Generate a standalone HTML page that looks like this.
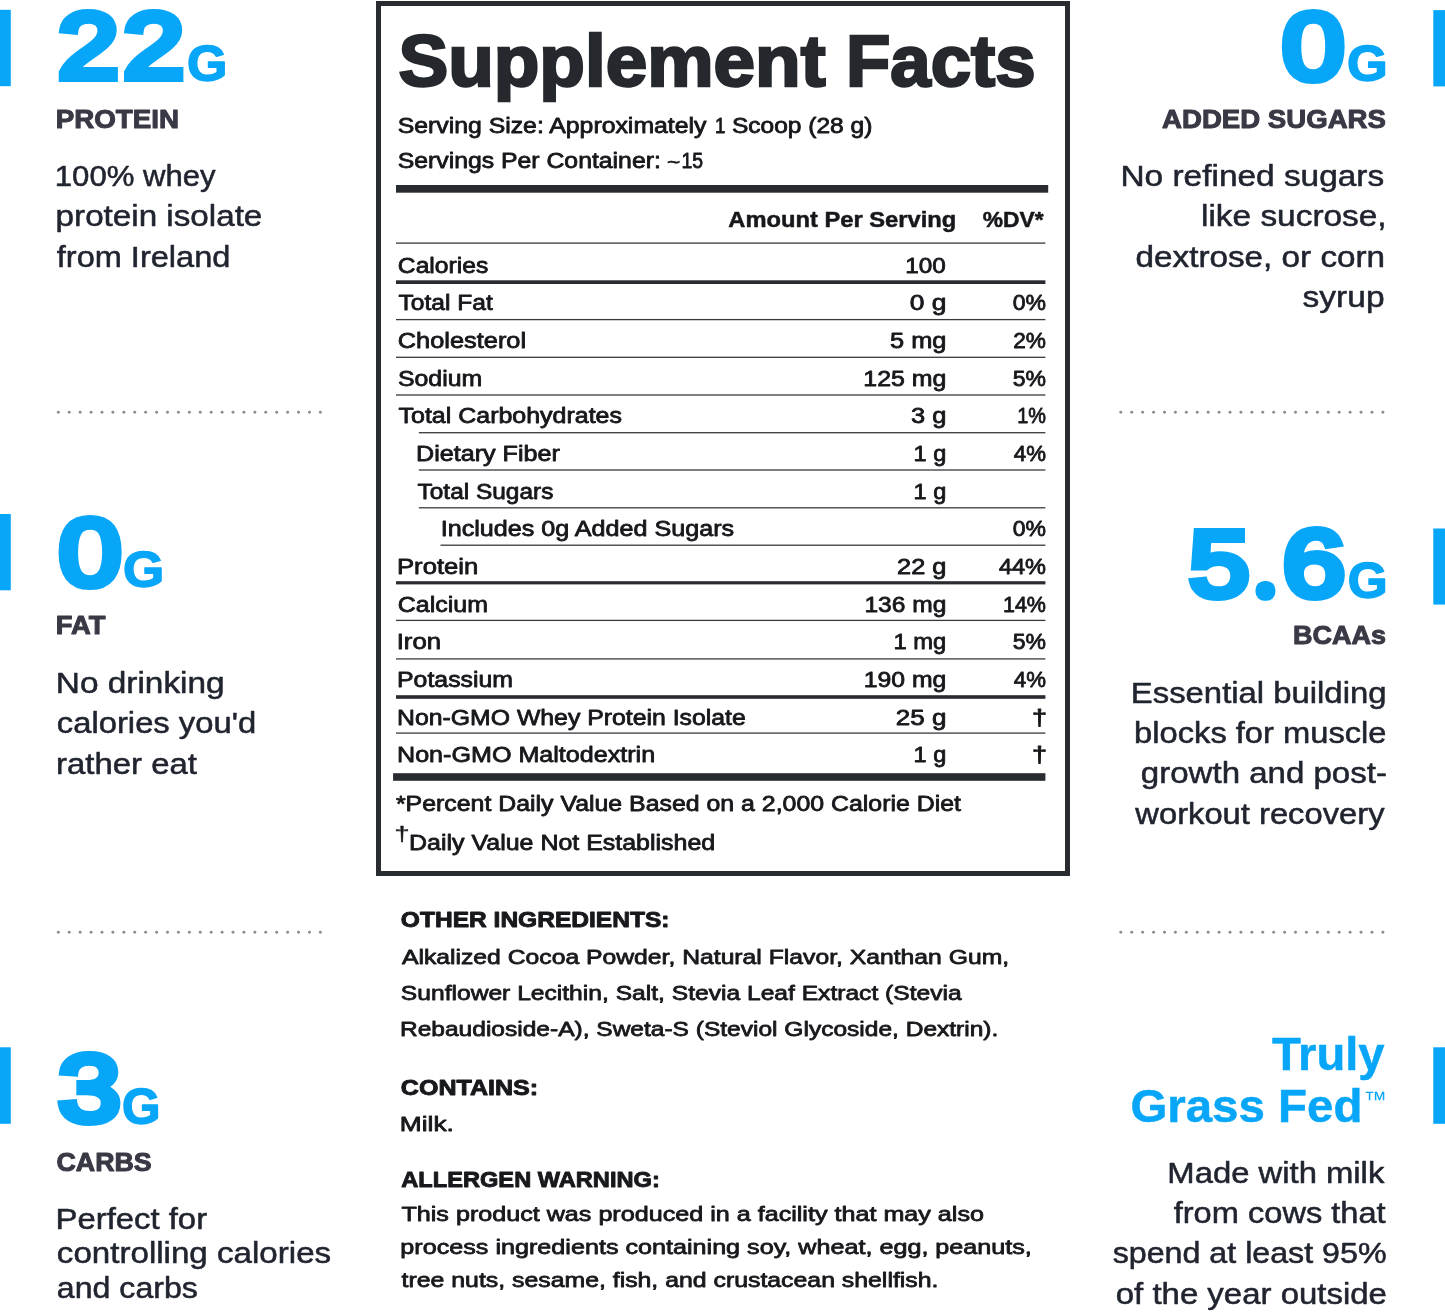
<!DOCTYPE html>
<html lang="en">
<head>
<meta charset="utf-8">
<title>Supplement Facts</title>
<style>
html,body{margin:0;padding:0;background:#fff;}
body{width:1445px;height:1313px;overflow:hidden;}
svg{display:block;will-change:transform;}
text{font-family:"Liberation Sans", sans-serif;white-space:pre;}
.k{paint-order:stroke fill;stroke-linejoin:round;}
.m{paint-order:stroke fill;stroke-linejoin:miter;}
</style>
</head>
<body>
<svg width="1445" height="1313" viewBox="0 0 1445 1313" role="img" aria-label="Supplement facts infographic">
<rect width="1445" height="1313" fill="#ffffff"/>
<g fill="#07a6f8">
<rect x="0" y="9.8" width="10.8" height="76.4"/>
<rect x="0" y="514.0" width="10.8" height="76.3"/>
<rect x="0" y="1047.3" width="10.8" height="76.5"/>
<rect x="1433.3" y="10.1" width="11.7" height="76.3"/>
<rect x="1433.3" y="528.5" width="11.7" height="76.1"/>
<rect x="1433.3" y="1047.3" width="11.7" height="76.5"/>
</g>
<g fill="#8c8c8c">
<circle cx="58.30" cy="412.2" r="1.45"/>
<circle cx="69.22" cy="412.2" r="1.45"/>
<circle cx="80.14" cy="412.2" r="1.45"/>
<circle cx="91.06" cy="412.2" r="1.45"/>
<circle cx="101.98" cy="412.2" r="1.45"/>
<circle cx="112.90" cy="412.2" r="1.45"/>
<circle cx="123.82" cy="412.2" r="1.45"/>
<circle cx="134.74" cy="412.2" r="1.45"/>
<circle cx="145.66" cy="412.2" r="1.45"/>
<circle cx="156.58" cy="412.2" r="1.45"/>
<circle cx="167.50" cy="412.2" r="1.45"/>
<circle cx="178.42" cy="412.2" r="1.45"/>
<circle cx="189.34" cy="412.2" r="1.45"/>
<circle cx="200.26" cy="412.2" r="1.45"/>
<circle cx="211.18" cy="412.2" r="1.45"/>
<circle cx="222.10" cy="412.2" r="1.45"/>
<circle cx="233.02" cy="412.2" r="1.45"/>
<circle cx="243.94" cy="412.2" r="1.45"/>
<circle cx="254.86" cy="412.2" r="1.45"/>
<circle cx="265.78" cy="412.2" r="1.45"/>
<circle cx="276.70" cy="412.2" r="1.45"/>
<circle cx="287.62" cy="412.2" r="1.45"/>
<circle cx="298.54" cy="412.2" r="1.45"/>
<circle cx="309.46" cy="412.2" r="1.45"/>
<circle cx="320.38" cy="412.2" r="1.45"/>
<circle cx="58.30" cy="932.3" r="1.45"/>
<circle cx="69.22" cy="932.3" r="1.45"/>
<circle cx="80.14" cy="932.3" r="1.45"/>
<circle cx="91.06" cy="932.3" r="1.45"/>
<circle cx="101.98" cy="932.3" r="1.45"/>
<circle cx="112.90" cy="932.3" r="1.45"/>
<circle cx="123.82" cy="932.3" r="1.45"/>
<circle cx="134.74" cy="932.3" r="1.45"/>
<circle cx="145.66" cy="932.3" r="1.45"/>
<circle cx="156.58" cy="932.3" r="1.45"/>
<circle cx="167.50" cy="932.3" r="1.45"/>
<circle cx="178.42" cy="932.3" r="1.45"/>
<circle cx="189.34" cy="932.3" r="1.45"/>
<circle cx="200.26" cy="932.3" r="1.45"/>
<circle cx="211.18" cy="932.3" r="1.45"/>
<circle cx="222.10" cy="932.3" r="1.45"/>
<circle cx="233.02" cy="932.3" r="1.45"/>
<circle cx="243.94" cy="932.3" r="1.45"/>
<circle cx="254.86" cy="932.3" r="1.45"/>
<circle cx="265.78" cy="932.3" r="1.45"/>
<circle cx="276.70" cy="932.3" r="1.45"/>
<circle cx="287.62" cy="932.3" r="1.45"/>
<circle cx="298.54" cy="932.3" r="1.45"/>
<circle cx="309.46" cy="932.3" r="1.45"/>
<circle cx="320.38" cy="932.3" r="1.45"/>
<circle cx="1120.80" cy="412.2" r="1.45"/>
<circle cx="1131.72" cy="412.2" r="1.45"/>
<circle cx="1142.64" cy="412.2" r="1.45"/>
<circle cx="1153.56" cy="412.2" r="1.45"/>
<circle cx="1164.48" cy="412.2" r="1.45"/>
<circle cx="1175.40" cy="412.2" r="1.45"/>
<circle cx="1186.32" cy="412.2" r="1.45"/>
<circle cx="1197.24" cy="412.2" r="1.45"/>
<circle cx="1208.16" cy="412.2" r="1.45"/>
<circle cx="1219.08" cy="412.2" r="1.45"/>
<circle cx="1230.00" cy="412.2" r="1.45"/>
<circle cx="1240.92" cy="412.2" r="1.45"/>
<circle cx="1251.84" cy="412.2" r="1.45"/>
<circle cx="1262.76" cy="412.2" r="1.45"/>
<circle cx="1273.68" cy="412.2" r="1.45"/>
<circle cx="1284.60" cy="412.2" r="1.45"/>
<circle cx="1295.52" cy="412.2" r="1.45"/>
<circle cx="1306.44" cy="412.2" r="1.45"/>
<circle cx="1317.36" cy="412.2" r="1.45"/>
<circle cx="1328.28" cy="412.2" r="1.45"/>
<circle cx="1339.20" cy="412.2" r="1.45"/>
<circle cx="1350.12" cy="412.2" r="1.45"/>
<circle cx="1361.04" cy="412.2" r="1.45"/>
<circle cx="1371.96" cy="412.2" r="1.45"/>
<circle cx="1382.88" cy="412.2" r="1.45"/>
<circle cx="1120.80" cy="932.3" r="1.45"/>
<circle cx="1131.72" cy="932.3" r="1.45"/>
<circle cx="1142.64" cy="932.3" r="1.45"/>
<circle cx="1153.56" cy="932.3" r="1.45"/>
<circle cx="1164.48" cy="932.3" r="1.45"/>
<circle cx="1175.40" cy="932.3" r="1.45"/>
<circle cx="1186.32" cy="932.3" r="1.45"/>
<circle cx="1197.24" cy="932.3" r="1.45"/>
<circle cx="1208.16" cy="932.3" r="1.45"/>
<circle cx="1219.08" cy="932.3" r="1.45"/>
<circle cx="1230.00" cy="932.3" r="1.45"/>
<circle cx="1240.92" cy="932.3" r="1.45"/>
<circle cx="1251.84" cy="932.3" r="1.45"/>
<circle cx="1262.76" cy="932.3" r="1.45"/>
<circle cx="1273.68" cy="932.3" r="1.45"/>
<circle cx="1284.60" cy="932.3" r="1.45"/>
<circle cx="1295.52" cy="932.3" r="1.45"/>
<circle cx="1306.44" cy="932.3" r="1.45"/>
<circle cx="1317.36" cy="932.3" r="1.45"/>
<circle cx="1328.28" cy="932.3" r="1.45"/>
<circle cx="1339.20" cy="932.3" r="1.45"/>
<circle cx="1350.12" cy="932.3" r="1.45"/>
<circle cx="1361.04" cy="932.3" r="1.45"/>
<circle cx="1371.96" cy="932.3" r="1.45"/>
<circle cx="1382.88" cy="932.3" r="1.45"/>
</g>
<rect x="378.5" y="3.5" width="689" height="870" fill="none" stroke="#282b30" stroke-width="5"/>
<g fill="#282b30">
<rect x="396" y="185" width="652.2" height="7.7"/>
<rect x="393.1" y="773.2" width="652.3" height="7.6"/>
<rect x="396" y="280.3" width="649.4" height="3.70"/>
<rect x="396" y="581.2" width="649.4" height="3.20"/>
<rect x="396" y="695.2" width="649.4" height="3.60"/>
</g>
<g fill="#383a3f">
<rect x="396" y="242.45" width="649.4" height="1.3"/>
<rect x="396" y="318.95" width="649.4" height="1.3"/>
<rect x="396" y="356.65" width="649.4" height="1.3"/>
<rect x="396" y="394.35" width="649.4" height="1.3"/>
<rect x="418.8" y="432.05" width="626.6" height="1.3"/>
<rect x="418.8" y="469.35" width="626.6" height="1.3"/>
<rect x="418.8" y="507.15" width="626.6" height="1.3"/>
<rect x="440.5" y="544.55" width="604.9" height="1.3"/>
<rect x="396" y="619.75" width="649.4" height="1.3"/>
<rect x="396" y="658.25" width="649.4" height="1.3"/>
<rect x="396" y="732.45" width="649.4" height="1.3"/>
</g>
<g id="l1">
<text><tspan x="58.11" y="78.40" font-size="92.6" font-weight="400" fill="#07a6f8" textLength="60.67" lengthAdjust="spacingAndGlyphs" class="m" stroke="#07a6f8" stroke-width="8.0">2</tspan><tspan x="123.39" y="78.40" font-size="92.6" font-weight="400" fill="#07a6f8" textLength="60.92" lengthAdjust="spacingAndGlyphs" class="m" stroke="#07a6f8" stroke-width="8.0">2</tspan><tspan x="187.12" y="81.20" font-size="50.0" font-weight="700" fill="#07a6f8" textLength="40.34" lengthAdjust="spacingAndGlyphs" class="k" stroke="#07a6f8" stroke-width="1.5">G</tspan></text>
<text x="55.74" y="127.50" font-size="26.2" font-weight="700" fill="#393946" textLength="123.33" lengthAdjust="spacingAndGlyphs" class="k" stroke="#393946" stroke-width="1.0">PROTEIN</text>
<text x="54.78" y="186.20" font-size="28.8" font-weight="400" fill="#20242f" textLength="160.93" lengthAdjust="spacingAndGlyphs" class="k" stroke="#20242f" stroke-width="0.5">100% whey</text>
<text x="55.61" y="226.40" font-size="28.8" font-weight="400" fill="#20242f" textLength="206.72" lengthAdjust="spacingAndGlyphs" class="k" stroke="#20242f" stroke-width="0.5">protein isolate</text>
<text x="56.79" y="266.90" font-size="28.8" font-weight="400" fill="#20242f" textLength="173.56" lengthAdjust="spacingAndGlyphs" class="k" stroke="#20242f" stroke-width="0.5">from Ireland</text>
</g>
<g id="l2">
<text><tspan x="58.93" y="584.70" font-size="94.2" font-weight="400" fill="#07a6f8" textLength="62.24" lengthAdjust="spacingAndGlyphs" class="m" stroke="#07a6f8" stroke-width="8.0">0</tspan><tspan x="123.07" y="587.40" font-size="50.0" font-weight="700" fill="#07a6f8" textLength="41.26" lengthAdjust="spacingAndGlyphs" class="k" stroke="#07a6f8" stroke-width="1.5">G</tspan></text>
<text x="55.77" y="634.30" font-size="26.2" font-weight="700" fill="#393946" textLength="49.62" lengthAdjust="spacingAndGlyphs" class="k" stroke="#393946" stroke-width="1.0">FAT</text>
<text x="55.81" y="693.00" font-size="28.8" font-weight="400" fill="#20242f" textLength="168.89" lengthAdjust="spacingAndGlyphs" class="k" stroke="#20242f" stroke-width="0.5">No drinking</text>
<text x="56.86" y="733.20" font-size="28.8" font-weight="400" fill="#20242f" textLength="199.30" lengthAdjust="spacingAndGlyphs" class="k" stroke="#20242f" stroke-width="0.5">calories you'd</text>
<text x="56.06" y="773.50" font-size="28.8" font-weight="400" fill="#20242f" textLength="140.93" lengthAdjust="spacingAndGlyphs" class="k" stroke="#20242f" stroke-width="0.5">rather eat</text>
</g>
<g id="l3">
<text><tspan x="58.33" y="1121.00" font-size="95.0" font-weight="400" fill="#07a6f8" textLength="62.40" lengthAdjust="spacingAndGlyphs" class="m" stroke="#07a6f8" stroke-width="8.0">3</tspan><tspan x="122.12" y="1123.80" font-size="50.0" font-weight="700" fill="#07a6f8" textLength="38.50" lengthAdjust="spacingAndGlyphs" class="k" stroke="#07a6f8" stroke-width="1.5">G</tspan></text>
<text x="56.50" y="1170.60" font-size="26.2" font-weight="700" fill="#393946" textLength="95.25" lengthAdjust="spacingAndGlyphs" class="k" stroke="#393946" stroke-width="1.0">CARBS</text>
<text x="55.55" y="1228.90" font-size="28.8" font-weight="400" fill="#20242f" textLength="151.54" lengthAdjust="spacingAndGlyphs" class="k" stroke="#20242f" stroke-width="0.5">Perfect for</text>
<text x="56.84" y="1263.20" font-size="28.8" font-weight="400" fill="#20242f" textLength="274.30" lengthAdjust="spacingAndGlyphs" class="k" stroke="#20242f" stroke-width="0.5">controlling calories</text>
<text x="56.89" y="1298.10" font-size="28.8" font-weight="400" fill="#20242f" textLength="141.02" lengthAdjust="spacingAndGlyphs" class="k" stroke="#20242f" stroke-width="0.5">and carbs</text>
</g>
<g id="r1">
<text><tspan x="1282.34" y="78.50" font-size="94.2" font-weight="400" fill="#07a6f8" textLength="62.01" lengthAdjust="spacingAndGlyphs" class="m" stroke="#07a6f8" stroke-width="8.0">0</tspan><tspan x="1347.11" y="81.20" font-size="50.0" font-weight="700" fill="#07a6f8" textLength="40.69" lengthAdjust="spacingAndGlyphs" class="k" stroke="#07a6f8" stroke-width="1.5">G</tspan></text>
<text x="1162.11" y="127.50" font-size="26.2" font-weight="700" fill="#393946" textLength="223.77" lengthAdjust="spacingAndGlyphs" class="k" stroke="#393946" stroke-width="1.0">ADDED SUGARS</text>
<text x="1120.51" y="186.20" font-size="28.8" font-weight="400" fill="#20242f" textLength="263.65" lengthAdjust="spacingAndGlyphs" class="k" stroke="#20242f" stroke-width="0.5">No refined sugars</text>
<text x="1201.00" y="226.40" font-size="28.8" font-weight="400" fill="#20242f" textLength="185.65" lengthAdjust="spacingAndGlyphs" class="k" stroke="#20242f" stroke-width="0.5">like sucrose,</text>
<text x="1135.55" y="266.90" font-size="28.8" font-weight="400" fill="#20242f" textLength="249.56" lengthAdjust="spacingAndGlyphs" class="k" stroke="#20242f" stroke-width="0.5">dextrose, or corn</text>
<text x="1302.62" y="307.20" font-size="28.8" font-weight="400" fill="#20242f" textLength="81.94" lengthAdjust="spacingAndGlyphs" class="k" stroke="#20242f" stroke-width="0.5">syrup</text>
</g>
<g id="r2">
<text><tspan x="1189.28" y="595.50" font-size="93.5" font-weight="400" fill="#07a6f8" textLength="60.06" lengthAdjust="spacingAndGlyphs" class="m" stroke="#07a6f8" stroke-width="8.0">5</tspan><tspan x="1263.44" y="591.60" font-size="14" font-weight="700" fill="#07a6f8" textLength="3.94" lengthAdjust="spacingAndGlyphs" class="k" stroke="#07a6f8" stroke-width="17.6">.</tspan><tspan x="1282.72" y="595.50" font-size="94.2" font-weight="400" fill="#07a6f8" textLength="62.19" lengthAdjust="spacingAndGlyphs" class="m" stroke="#07a6f8" stroke-width="8.0">6</tspan><tspan x="1347.85" y="598.40" font-size="50.0" font-weight="700" fill="#07a6f8" textLength="39.88" lengthAdjust="spacingAndGlyphs" class="k" stroke="#07a6f8" stroke-width="1.5">G</tspan></text>
<text x="1293.00" y="644.40" font-size="26.2" font-weight="700" fill="#393946" textLength="92.91" lengthAdjust="spacingAndGlyphs" class="k" stroke="#393946" stroke-width="1.0">BCAAs</text>
<text x="1130.86" y="702.90" font-size="28.8" font-weight="400" fill="#20242f" textLength="255.61" lengthAdjust="spacingAndGlyphs" class="k" stroke="#20242f" stroke-width="0.5">Essential building</text>
<text x="1134.14" y="743.30" font-size="28.8" font-weight="400" fill="#20242f" textLength="252.36" lengthAdjust="spacingAndGlyphs" class="k" stroke="#20242f" stroke-width="0.5">blocks for muscle</text>
<text x="1140.86" y="783.30" font-size="28.8" font-weight="400" fill="#20242f" textLength="246.06" lengthAdjust="spacingAndGlyphs" class="k" stroke="#20242f" stroke-width="0.5">growth and post-</text>
<text x="1135.30" y="823.60" font-size="28.8" font-weight="400" fill="#20242f" textLength="249.22" lengthAdjust="spacingAndGlyphs" class="k" stroke="#20242f" stroke-width="0.5">workout recovery</text>
</g>
<g id="r3">
<text x="1271.92" y="1070.10" font-size="46" font-weight="700" fill="#07a6f8" textLength="112.68" lengthAdjust="spacingAndGlyphs" class="k" stroke="#07a6f8" stroke-width="0.5">Truly</text>
<text><tspan x="1130.40" y="1121.50" font-size="46" font-weight="700" fill="#07a6f8" textLength="231.97" lengthAdjust="spacingAndGlyphs" class="k" stroke="#07a6f8" stroke-width="0.5">Grass Fed</tspan><tspan x="1363.65" y="1106.70" font-size="22.2" font-weight="400" fill="#07a6f8" textLength="23.39" lengthAdjust="spacingAndGlyphs">™</tspan></text>
<text x="1167.36" y="1182.50" font-size="28.8" font-weight="400" fill="#20242f" textLength="216.94" lengthAdjust="spacingAndGlyphs" class="k" stroke="#20242f" stroke-width="0.5">Made with milk</text>
<text x="1173.69" y="1222.70" font-size="28.8" font-weight="400" fill="#20242f" textLength="212.00" lengthAdjust="spacingAndGlyphs" class="k" stroke="#20242f" stroke-width="0.5">from cows that</text>
<text x="1112.65" y="1263.20" font-size="28.8" font-weight="400" fill="#20242f" textLength="273.94" lengthAdjust="spacingAndGlyphs" class="k" stroke="#20242f" stroke-width="0.5">spend at least 95%</text>
<text x="1115.77" y="1304.30" font-size="28.8" font-weight="400" fill="#20242f" textLength="271.15" lengthAdjust="spacingAndGlyphs" class="k" stroke="#20242f" stroke-width="0.5">of the year outside</text>
</g>
<g id="hd">
<text><tspan x="398.40" y="85.95" font-size="72.2" font-weight="700" fill="#25282d" textLength="427.16" lengthAdjust="spacingAndGlyphs" class="m" stroke="#25282d" stroke-width="2.5">Supplement</tspan> <tspan x="846.00" y="85.95" font-size="72.2" font-weight="700" fill="#25282d" textLength="189.53" lengthAdjust="spacingAndGlyphs" class="m" stroke="#25282d" stroke-width="2.5">Facts</tspan></text>
<text><tspan x="397.67" y="133.40" font-size="22.0" font-weight="400" fill="#16171b" textLength="308.77" lengthAdjust="spacingAndGlyphs" class="k" stroke="#16171b" stroke-width="0.8">Serving Size: Approximately</tspan> <tspan x="715.07" y="133.40" font-size="22.0" font-weight="400" fill="#16171b" textLength="10.44" lengthAdjust="spacingAndGlyphs" class="k" stroke="#16171b" stroke-width="0.8">1</tspan> <tspan x="731.99" y="133.40" font-size="22.0" font-weight="400" fill="#16171b" textLength="140.33" lengthAdjust="spacingAndGlyphs" class="k" stroke="#16171b" stroke-width="0.8">Scoop (28 g)</tspan></text>
<text><tspan x="397.67" y="168.40" font-size="22.0" font-weight="400" fill="#16171b" textLength="263.19" lengthAdjust="spacingAndGlyphs" class="k" stroke="#16171b" stroke-width="0.8">Servings Per Container:</tspan> <tspan x="667.08" y="168.00" font-size="18" font-weight="400" fill="#16171b" textLength="13.24" lengthAdjust="spacingAndGlyphs" class="k" stroke="#16171b" stroke-width="0.6">~</tspan><tspan x="681.42" y="168.40" font-size="22.0" font-weight="400" fill="#16171b" textLength="21.59" lengthAdjust="spacingAndGlyphs" class="k" stroke="#16171b" stroke-width="0.8">15</tspan></text>
<text><tspan x="728.36" y="227.30" font-size="22.0" font-weight="700" fill="#16171b" textLength="227.88" lengthAdjust="spacingAndGlyphs" class="k" stroke="#16171b" stroke-width="0.5">Amount Per Serving</tspan> <tspan x="982.78" y="227.30" font-size="22.0" font-weight="700" fill="#16171b" textLength="60.89" lengthAdjust="spacingAndGlyphs" class="k" stroke="#16171b" stroke-width="0.5">%DV*</tspan></text>
</g>
<g id="tb">
<text><tspan x="397.85" y="272.80" font-size="22.0" font-weight="400" fill="#16171b" textLength="90.44" lengthAdjust="spacingAndGlyphs" class="k" stroke="#16171b" stroke-width="0.8">Calories</tspan> <tspan x="905.15" y="272.80" font-size="22.0" font-weight="400" fill="#16171b" textLength="40.60" lengthAdjust="spacingAndGlyphs" class="k" stroke="#16171b" stroke-width="0.8">100</tspan></text>
<text><tspan x="398.55" y="310.46" font-size="22.0" font-weight="400" fill="#16171b" textLength="94.23" lengthAdjust="spacingAndGlyphs" class="k" stroke="#16171b" stroke-width="0.8">Total Fat</tspan> <tspan x="909.87" y="310.46" font-size="22.0" font-weight="400" fill="#16171b" textLength="36.63" lengthAdjust="spacingAndGlyphs" class="k" stroke="#16171b" stroke-width="0.8">0 g</tspan> <tspan x="1012.80" y="310.46" font-size="22.0" font-weight="400" fill="#16171b" textLength="33.22" lengthAdjust="spacingAndGlyphs" class="k" stroke="#16171b" stroke-width="0.8">0%</tspan></text>
<text><tspan x="397.81" y="348.12" font-size="22.0" font-weight="400" fill="#16171b" textLength="128.28" lengthAdjust="spacingAndGlyphs" class="k" stroke="#16171b" stroke-width="0.8">Cholesterol</tspan> <tspan x="889.98" y="348.12" font-size="22.0" font-weight="400" fill="#16171b" textLength="56.45" lengthAdjust="spacingAndGlyphs" class="k" stroke="#16171b" stroke-width="0.8">5 mg</tspan> <tspan x="1013.26" y="348.12" font-size="22.0" font-weight="400" fill="#16171b" textLength="32.75" lengthAdjust="spacingAndGlyphs" class="k" stroke="#16171b" stroke-width="0.8">2%</tspan></text>
<text><tspan x="397.97" y="385.78" font-size="22.0" font-weight="400" fill="#16171b" textLength="84.27" lengthAdjust="spacingAndGlyphs" class="k" stroke="#16171b" stroke-width="0.8">Sodium</tspan> <tspan x="863.30" y="385.78" font-size="22.0" font-weight="400" fill="#16171b" textLength="83.10" lengthAdjust="spacingAndGlyphs" class="k" stroke="#16171b" stroke-width="0.8">125 mg</tspan> <tspan x="1012.78" y="385.78" font-size="22.0" font-weight="400" fill="#16171b" textLength="33.24" lengthAdjust="spacingAndGlyphs" class="k" stroke="#16171b" stroke-width="0.8">5%</tspan></text>
<text><tspan x="398.54" y="423.44" font-size="22.0" font-weight="400" fill="#16171b" textLength="223.46" lengthAdjust="spacingAndGlyphs" class="k" stroke="#16171b" stroke-width="0.8">Total Carbohydrates</tspan> <tspan x="911.03" y="423.44" font-size="22.0" font-weight="400" fill="#16171b" textLength="35.41" lengthAdjust="spacingAndGlyphs" class="k" stroke="#16171b" stroke-width="0.8">3 g</tspan> <tspan x="1017.19" y="423.44" font-size="22.0" font-weight="400" fill="#16171b" textLength="28.72" lengthAdjust="spacingAndGlyphs" class="k" stroke="#16171b" stroke-width="0.8">1%</tspan></text>
<text><tspan x="416.04" y="461.10" font-size="22.0" font-weight="400" fill="#16171b" textLength="143.78" lengthAdjust="spacingAndGlyphs" class="k" stroke="#16171b" stroke-width="0.8">Dietary Fiber</tspan> <tspan x="913.61" y="461.10" font-size="22.0" font-weight="400" fill="#16171b" textLength="32.71" lengthAdjust="spacingAndGlyphs" class="k" stroke="#16171b" stroke-width="0.8">1 g</tspan> <tspan x="1013.89" y="461.10" font-size="22.0" font-weight="400" fill="#16171b" textLength="32.10" lengthAdjust="spacingAndGlyphs" class="k" stroke="#16171b" stroke-width="0.8">4%</tspan></text>
<text><tspan x="417.55" y="498.76" font-size="22.0" font-weight="400" fill="#16171b" textLength="135.83" lengthAdjust="spacingAndGlyphs" class="k" stroke="#16171b" stroke-width="0.8">Total Sugars</tspan> <tspan x="913.61" y="498.76" font-size="22.0" font-weight="400" fill="#16171b" textLength="32.71" lengthAdjust="spacingAndGlyphs" class="k" stroke="#16171b" stroke-width="0.8">1 g</tspan></text>
<text><tspan x="440.68" y="536.42" font-size="22.0" font-weight="400" fill="#16171b" textLength="293.43" lengthAdjust="spacingAndGlyphs" class="k" stroke="#16171b" stroke-width="0.8">Includes 0g Added Sugars</tspan> <tspan x="1012.80" y="536.42" font-size="22.0" font-weight="400" fill="#16171b" textLength="33.22" lengthAdjust="spacingAndGlyphs" class="k" stroke="#16171b" stroke-width="0.8">0%</tspan></text>
<text><tspan x="397.00" y="574.08" font-size="22.0" font-weight="400" fill="#16171b" textLength="81.27" lengthAdjust="spacingAndGlyphs" class="k" stroke="#16171b" stroke-width="0.8">Protein</tspan> <tspan x="897.02" y="574.08" font-size="22.0" font-weight="400" fill="#16171b" textLength="49.41" lengthAdjust="spacingAndGlyphs" class="k" stroke="#16171b" stroke-width="0.8">22 g</tspan> <tspan x="998.96" y="574.08" font-size="22.0" font-weight="400" fill="#16171b" textLength="47.08" lengthAdjust="spacingAndGlyphs" class="k" stroke="#16171b" stroke-width="0.8">44%</tspan></text>
<text><tspan x="397.83" y="611.74" font-size="22.0" font-weight="400" fill="#16171b" textLength="90.11" lengthAdjust="spacingAndGlyphs" class="k" stroke="#16171b" stroke-width="0.8">Calcium</tspan> <tspan x="864.43" y="611.74" font-size="22.0" font-weight="400" fill="#16171b" textLength="81.95" lengthAdjust="spacingAndGlyphs" class="k" stroke="#16171b" stroke-width="0.8">136 mg</tspan> <tspan x="1002.96" y="611.74" font-size="22.0" font-weight="400" fill="#16171b" textLength="43.00" lengthAdjust="spacingAndGlyphs" class="k" stroke="#16171b" stroke-width="0.8">14%</tspan></text>
<text><tspan x="396.73" y="649.40" font-size="22.0" font-weight="400" fill="#16171b" textLength="44.34" lengthAdjust="spacingAndGlyphs" class="k" stroke="#16171b" stroke-width="0.8">Iron</tspan> <tspan x="893.59" y="649.40" font-size="22.0" font-weight="400" fill="#16171b" textLength="52.73" lengthAdjust="spacingAndGlyphs" class="k" stroke="#16171b" stroke-width="0.8">1 mg</tspan> <tspan x="1012.78" y="649.40" font-size="22.0" font-weight="400" fill="#16171b" textLength="33.24" lengthAdjust="spacingAndGlyphs" class="k" stroke="#16171b" stroke-width="0.8">5%</tspan></text>
<text><tspan x="397.06" y="687.06" font-size="22.0" font-weight="400" fill="#16171b" textLength="115.97" lengthAdjust="spacingAndGlyphs" class="k" stroke="#16171b" stroke-width="0.8">Potassium</tspan> <tspan x="863.81" y="687.06" font-size="22.0" font-weight="400" fill="#16171b" textLength="82.58" lengthAdjust="spacingAndGlyphs" class="k" stroke="#16171b" stroke-width="0.8">190 mg</tspan> <tspan x="1013.89" y="687.06" font-size="22.0" font-weight="400" fill="#16171b" textLength="32.10" lengthAdjust="spacingAndGlyphs" class="k" stroke="#16171b" stroke-width="0.8">4%</tspan></text>
<text><tspan x="397.07" y="724.72" font-size="22.0" font-weight="400" fill="#16171b" textLength="348.64" lengthAdjust="spacingAndGlyphs" class="k" stroke="#16171b" stroke-width="0.8">Non-GMO Whey Protein Isolate</tspan> <tspan x="895.89" y="724.72" font-size="22.0" font-weight="400" fill="#16171b" textLength="50.58" lengthAdjust="spacingAndGlyphs" class="k" stroke="#16171b" stroke-width="0.8">25 g</tspan> <tspan x="1031.98" y="724.72" font-size="22.0" font-weight="400" fill="#16171b" textLength="15.02" lengthAdjust="spacingAndGlyphs" class="k" stroke="#16171b" stroke-width="0.8">†</tspan></text>
<text><tspan x="397.04" y="762.38" font-size="22.0" font-weight="400" fill="#16171b" textLength="258.09" lengthAdjust="spacingAndGlyphs" class="k" stroke="#16171b" stroke-width="0.8">Non-GMO Maltodextrin</tspan> <tspan x="913.61" y="762.38" font-size="22.0" font-weight="400" fill="#16171b" textLength="32.71" lengthAdjust="spacingAndGlyphs" class="k" stroke="#16171b" stroke-width="0.8">1 g</tspan> <tspan x="1031.98" y="762.38" font-size="22.0" font-weight="400" fill="#16171b" textLength="15.02" lengthAdjust="spacingAndGlyphs" class="k" stroke="#16171b" stroke-width="0.8">†</tspan></text>
</g>
<g id="ft">
<text x="395.90" y="811.30" font-size="22.0" font-weight="400" fill="#16171b" textLength="565.08" lengthAdjust="spacingAndGlyphs" class="k" stroke="#16171b" stroke-width="0.8">*Percent Daily Value Based on a 2,000 Calorie Diet</text>
<text><tspan x="394.17" y="840.50" font-size="20" font-weight="400" fill="#16171b" textLength="15.55" lengthAdjust="spacingAndGlyphs" class="k" stroke="#16171b" stroke-width="0.3">†</tspan><tspan x="409.05" y="850.40" font-size="22.0" font-weight="400" fill="#16171b" textLength="306.16" lengthAdjust="spacingAndGlyphs" class="k" stroke="#16171b" stroke-width="0.8">Daily Value Not Established</tspan></text>
</g>
<g id="in">
<text x="400.84" y="927.30" font-size="21.5" font-weight="700" fill="#17181c" textLength="268.67" lengthAdjust="spacingAndGlyphs" class="k" stroke="#17181c" stroke-width="0.9">OTHER INGREDIENTS:</text>
<text x="401.95" y="964.00" font-size="21.0" font-weight="400" fill="#17181c" textLength="607.17" lengthAdjust="spacingAndGlyphs" class="k" stroke="#17181c" stroke-width="0.8">Alkalized Cocoa Powder, Natural Flavor, Xanthan Gum,</text>
<text x="400.88" y="1000.00" font-size="21.0" font-weight="400" fill="#17181c" textLength="560.82" lengthAdjust="spacingAndGlyphs" class="k" stroke="#17181c" stroke-width="0.8">Sunflower Lecithin, Salt, Stevia Leaf Extract (Stevia</text>
<text x="399.99" y="1036.00" font-size="21.0" font-weight="400" fill="#17181c" textLength="598.35" lengthAdjust="spacingAndGlyphs" class="k" stroke="#17181c" stroke-width="0.8">Rebaudioside-A), Sweta-S (Steviol Glycoside, Dextrin).</text>
<text x="400.82" y="1095.00" font-size="21.5" font-weight="700" fill="#17181c" textLength="137.34" lengthAdjust="spacingAndGlyphs" class="k" stroke="#17181c" stroke-width="0.9">CONTAINS:</text>
<text x="399.84" y="1131.20" font-size="21.0" font-weight="400" fill="#17181c" textLength="54.06" lengthAdjust="spacingAndGlyphs" class="k" stroke="#17181c" stroke-width="0.8">Milk.</text>
<text x="401.26" y="1187.20" font-size="21.5" font-weight="700" fill="#17181c" textLength="258.56" lengthAdjust="spacingAndGlyphs" class="k" stroke="#17181c" stroke-width="0.9">ALLERGEN WARNING:</text>
<text x="401.44" y="1221.30" font-size="21.0" font-weight="400" fill="#17181c" textLength="582.52" lengthAdjust="spacingAndGlyphs" class="k" stroke="#17181c" stroke-width="0.8">This product was produced in a facility that may also</text>
<text x="400.38" y="1254.20" font-size="21.0" font-weight="400" fill="#17181c" textLength="631.48" lengthAdjust="spacingAndGlyphs" class="k" stroke="#17181c" stroke-width="0.8">process ingredients containing soy, wheat, egg, peanuts,</text>
<text x="401.62" y="1287.30" font-size="21.0" font-weight="400" fill="#17181c" textLength="536.84" lengthAdjust="spacingAndGlyphs" class="k" stroke="#17181c" stroke-width="0.8">tree nuts, sesame, fish, and crustacean shellfish.</text>
</g>
</svg>
</body>
</html>
